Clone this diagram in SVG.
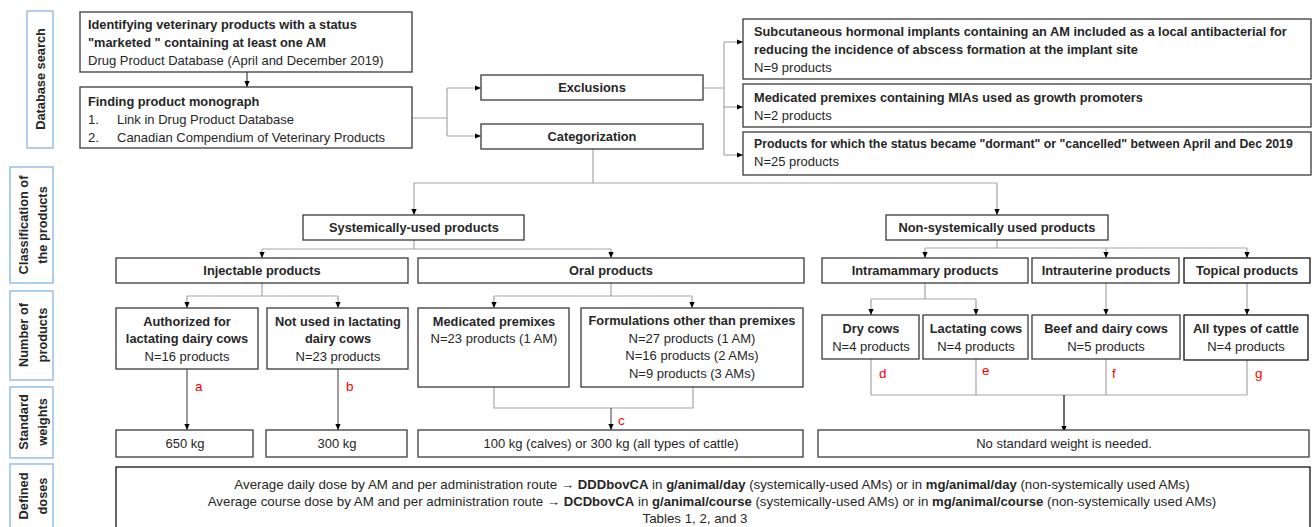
<svg xmlns="http://www.w3.org/2000/svg" width="1312" height="527" viewBox="0 0 1312 527">
<style>
text{font-family:"Liberation Sans",Arial,sans-serif;font-size:13px;fill:#262626}
.b{font-weight:bold;font-size:12.8px}
.c{text-anchor:middle}
.box{fill:#fff;stroke:#3a3a3a;stroke-width:1.3}
.lbl{fill:#fff;stroke:#9dc3e6;stroke-width:1.6}
.lt{font-weight:bold;font-size:12.8px;text-anchor:middle;dominant-baseline:central}
.con{fill:none;stroke:#a6a6a6;stroke-width:1.2}
.dk{stroke:#5a5a5a}
.red{fill:#ff0000;font-size:13.5px}
.dd{font-size:13.3px}
.dd .b{font-size:13.1px}
</style>
<defs>
<marker id="ah" viewBox="0 0 6 6" refX="6" refY="3" markerWidth="6" markerHeight="6" markerUnits="userSpaceOnUse" orient="auto"><path d="M0,0.4 L6,3 L0,5.6 z" fill="#000"/></marker>
</defs>
<rect width="1312" height="527" fill="#fff"/>

<g id="stage-labels">
<rect class="lbl" x="27" y="11" width="26" height="137"/>
<text class="lt" transform="translate(40,79) rotate(-90)">Database search</text>
<rect class="lbl" x="10" y="167" width="43" height="116"/>
<text class="lt" transform="translate(23,225) rotate(-90)">Classification of</text>
<text class="lt" transform="translate(42,225) rotate(-90)">the products</text>
<rect class="lbl" x="10" y="291" width="43" height="89"/>
<text class="lt" transform="translate(23,335) rotate(-90)">Number of</text>
<text class="lt" transform="translate(42,335) rotate(-90)">products</text>
<rect class="lbl" x="10" y="387" width="43" height="71"/>
<text class="lt" transform="translate(23,422) rotate(-90)">Standard</text>
<text class="lt" transform="translate(42,422) rotate(-90)">weights</text>
<rect class="lbl" x="10" y="464" width="43" height="70"/>
<text class="lt" transform="translate(23,496) rotate(-90)">Defined</text>
<text class="lt" transform="translate(42,496) rotate(-90)">doses</text>
</g>

<g id="connectors">
<path class="con" d="M247,72 V87" marker-end="url(#ah)" style="stroke:#404040"/>
<path class="con" d="M412,118 H447 M447,88 V136"/>
<path class="con" d="M447,88 H481" marker-end="url(#ah)"/>
<path class="con" d="M447,136 H481" marker-end="url(#ah)"/>
<path class="con" d="M703,88 H724 M724,42 V155"/>
<path class="con" d="M724,42 H743" marker-end="url(#ah)"/>
<path class="con" d="M724,107 H743" marker-end="url(#ah)"/>
<path class="con" d="M724,155 H743" marker-end="url(#ah)"/>
<path class="con" d="M593,149 V183 M414,183 H997"/>
<path class="con" d="M414,183 V215" marker-end="url(#ah)"/>
<path class="con" d="M997,183 V215" marker-end="url(#ah)"/>
<path class="con" d="M414,240 V249 M262,249 H611"/>
<path class="con" d="M262,249 V258" marker-end="url(#ah)"/>
<path class="con" d="M611,249 V258" marker-end="url(#ah)"/>
<path class="con" d="M262,283 V296 M187,296 H338"/>
<path class="con" d="M187,296 V308" marker-end="url(#ah)"/>
<path class="con" d="M338,296 V308" marker-end="url(#ah)"/>
<path class="con" d="M611,283 V296 M494,296 H692"/>
<path class="con" d="M494,296 V308" marker-end="url(#ah)"/>
<path class="con" d="M692,296 V308" marker-end="url(#ah)"/>
<path class="con dk" d="M187,369 V430" marker-end="url(#ah)"/>
<path class="con dk" d="M338,369 V430" marker-end="url(#ah)"/>
<path class="con" d="M494,387 V408 H693 V387"/>
<path class="con dk" d="M611,408 V430" marker-end="url(#ah)"/>
<path class="con" d="M997,240 V248 M925,248 H1247"/>
<path class="con" d="M925,248 V258" marker-end="url(#ah)"/>
<path class="con" d="M1106,248 V258" marker-end="url(#ah)"/>
<path class="con" d="M1247,248 V258" marker-end="url(#ah)"/>
<path class="con" d="M925,283 V299 M871,299 H976"/>
<path class="con" d="M871,299 V315" marker-end="url(#ah)"/>
<path class="con" d="M976,299 V315" marker-end="url(#ah)"/>
<path class="con" d="M1106,283 V315" marker-end="url(#ah)"/>
<path class="con" d="M1247,283 V315" marker-end="url(#ah)"/>
<path class="con" d="M871,359 V395 M976,359 V395 M1106,359 V395 M1247,360 V395 M871,395 H1247"/>
<path class="con" d="M1064,395 V432" marker-end="url(#ah)" style="stroke:#404040;stroke-width:1.5"/>
<text class="red" x="195" y="391">a</text>
<text class="red" x="346" y="391">b</text>
<text class="red" x="618" y="425">c</text>
<text class="red" x="879" y="378">d</text>
<text class="red" x="982" y="375">e</text>
<text class="red" x="1112" y="378">f</text>
<text class="red" x="1255" y="378">g</text>
</g>

<g id="identify">
<rect class="box" x="80" y="12" width="332" height="60"/>
<text class="b" x="88" y="29">Identifying veterinary products with a status</text>
<text class="b" x="88" y="47">"marketed " containing at least one AM</text>
<text x="88" y="65">Drug Product Database (April and December 2019)</text>
</g>
<g id="monograph">
<rect class="box" x="80" y="87" width="332" height="61"/>
<text class="b" x="88" y="106">Finding product monograph</text>
<text x="88" y="124">1.</text><text x="117" y="124">Link in Drug Product Database</text>
<text x="88" y="142">2.</text><text x="117" y="142">Canadian Compendium of Veterinary Products</text>
</g>
<g id="exclusions">
<rect class="box" x="481" y="75" width="222" height="25"/>
<text class="b c" x="592" y="92">Exclusions</text>
</g>
<g id="categorization">
<rect class="box" x="481" y="124" width="222" height="25"/>
<text class="b c" x="592" y="141">Categorization</text>
</g>
<g id="excl-implants">
<rect class="box" x="743" y="19" width="568" height="60"/>
<text class="b" x="754" y="36">Subcutaneous hormonal implants containing an AM included as a local antibacterial for</text>
<text class="b" x="754" y="54">reducing the incidence of abscess formation at the implant site</text>
<text x="754" y="72">N=9 products</text>
</g>
<g id="excl-premixes">
<rect class="box" x="743" y="84" width="568" height="43"/>
<text class="b" x="754" y="102">Medicated premixes containing MIAs used as growth promoters</text>
<text x="754" y="120">N=2 products</text>
</g>
<g id="excl-dormant">
<rect class="box" x="743" y="132" width="568" height="43"/>
<text class="b" x="754" y="148" style="font-size:12.3px">Products for which the status became "dormant" or "cancelled" between April and Dec 2019</text>
<text x="754" y="166">N=25 products</text>
</g>

<g id="systemic">
<rect class="box" x="303" y="215" width="221" height="25"/>
<text class="b c" x="414" y="232">Systemically-used products</text>
</g>
<g id="nonsystemic">
<rect class="box" x="886" y="215" width="222" height="25"/>
<text class="b c" x="997" y="232">Non-systemically used products</text>
</g>
<g id="injectable">
<rect class="box" x="116" y="258" width="292" height="25"/>
<text class="b c" x="262" y="275">Injectable products</text>
</g>
<g id="oral">
<rect class="box" x="418" y="258" width="386" height="25"/>
<text class="b c" x="611" y="275">Oral products</text>
</g>
<g id="intramammary">
<rect class="box" x="822" y="258" width="206" height="25"/>
<text class="b c" x="925" y="275">Intramammary products</text>
</g>
<g id="intrauterine">
<rect class="box" x="1032" y="258" width="147" height="25"/>
<text class="b c" x="1106" y="275">Intrauterine products</text>
</g>
<g id="topical">
<rect class="box" x="1184" y="258" width="126" height="25" style="stroke:#111"/>
<text class="b c" x="1247" y="275">Topical products</text>
</g>

<g id="authorized">
<rect class="box" x="116" y="308" width="142" height="61"/>
<text class="b c" x="187" y="326">Authorized for</text>
<text class="b c" x="187" y="343">lactating dairy cows</text>
<text class="c" x="187" y="361">N=16 products</text>
</g>
<g id="notused">
<rect class="box" x="267" y="308" width="141" height="61"/>
<text class="b c" x="338" y="326">Not used in lactating</text>
<text class="b c" x="338" y="343">dairy cows</text>
<text class="c" x="338" y="361">N=23 products</text>
</g>
<g id="medpremixes">
<rect class="box" x="418" y="308" width="151" height="79"/>
<text class="b c" x="494" y="326">Medicated premixes</text>
<text class="c" x="494" y="343">N=23 products (1 AM)</text>
</g>
<g id="formulations">
<rect class="box" x="581" y="308" width="222" height="79"/>
<text class="b c" x="692" y="325">Formulations other than premixes</text>
<text class="c" x="692" y="343">N=27 products (1 AM)</text>
<text class="c" x="692" y="360">N=16 products (2 AMs)</text>
<text class="c" x="692" y="378">N=9 products (3 AMs)</text>
</g>
<g id="drycows">
<rect class="box" x="822" y="315" width="97" height="44"/>
<text class="b c" x="871" y="333">Dry cows</text>
<text class="c" x="871" y="351">N=4 products</text>
</g>
<g id="lactating">
<rect class="box" x="923" y="315" width="105" height="44"/>
<text class="b c" x="976" y="333">Lactating cows</text>
<text class="c" x="976" y="351">N=4 products</text>
</g>
<g id="beefdairy">
<rect class="box" x="1032" y="315" width="148" height="44"/>
<text class="b c" x="1106" y="333">Beef and dairy cows</text>
<text class="c" x="1106" y="351">N=5 products</text>
</g>
<g id="alltypes">
<rect class="box" x="1184" y="315" width="124" height="45" style="stroke:#111"/>
<text class="b c" x="1246" y="333">All types of cattle</text>
<text class="c" x="1246" y="351">N=4 products</text>
</g>

<g id="w650">
<rect class="box" x="116" y="430" width="137" height="27"/>
<text class="c" x="185" y="448">650 kg</text>
</g>
<g id="w300">
<rect class="box" x="266" y="430" width="141" height="27"/>
<text class="c" x="337" y="448">300 kg</text>
</g>
<g id="w100">
<rect class="box" x="418" y="430" width="385" height="27"/>
<text class="c" x="611" y="448">100 kg (calves) or 300 kg (all types of cattle)</text>
</g>
<g id="wnone">
<rect class="box" x="818" y="430" width="491" height="27"/>
<text class="c" x="1064" y="448">No standard weight is needed.</text>
</g>

<g id="defined-doses">
<rect class="box" x="116" y="467" width="1194" height="70" style="stroke:#111"/>
<text class="c dd" x="712" y="489">Average daily dose by AM and per administration route → <tspan class="b">DDDbovCA</tspan> in <tspan class="b">g/animal/day</tspan> (systemically-used AMs) or in <tspan class="b">mg/animal/day</tspan> (non-systemically used AMs)</text>
<text class="c dd" x="712" y="506">Average course dose by AM and per administration route → <tspan class="b">DCDbovCA</tspan> in <tspan class="b">g/animal/course</tspan> (systemically-used AMs) or in <tspan class="b">mg/animal/course</tspan> (non-systemically used AMs)</text>
<text class="c dd" x="695" y="523">Tables 1, 2, and 3</text>
</g>
</svg>
